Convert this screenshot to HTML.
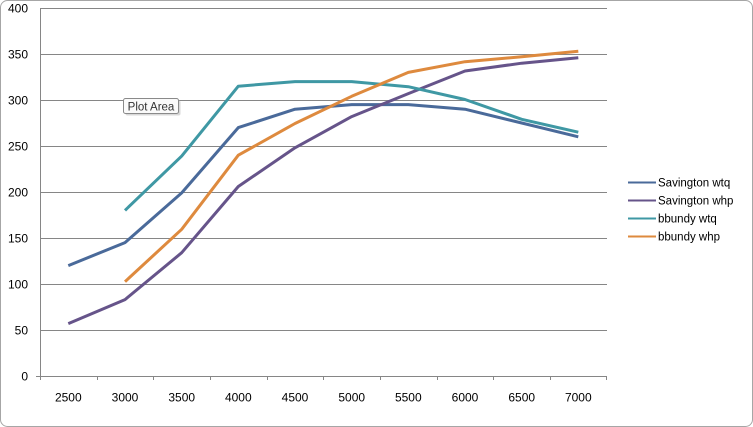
<!DOCTYPE html>
<html><head><meta charset="utf-8"><style>
html,body{margin:0;padding:0;background:#fff;}
svg{display:block;}
text{font-family:"Liberation Sans",Arial,sans-serif;}
</style></head><body>
<svg width="753" height="427" viewBox="0 0 753 427" xmlns="http://www.w3.org/2000/svg">
<rect x="0.5" y="0.5" width="752" height="426" rx="7" ry="7" fill="#fff" stroke="#a6a6a6" stroke-width="1"/>
<g stroke="#868686" stroke-width="1" shape-rendering="crispEdges">
<line x1="40" y1="8.5" x2="607" y2="8.5"/>
<line x1="40" y1="54.5" x2="607" y2="54.5"/>
<line x1="40" y1="100.5" x2="607" y2="100.5"/>
<line x1="40" y1="146.5" x2="607" y2="146.5"/>
<line x1="40" y1="192.5" x2="607" y2="192.5"/>
<line x1="40" y1="238.5" x2="607" y2="238.5"/>
<line x1="40" y1="284.5" x2="607" y2="284.5"/>
<line x1="40" y1="330.5" x2="607" y2="330.5"/>
<line x1="36" y1="376.5" x2="607" y2="376.5"/>
<line x1="40.5" y1="8" x2="40.5" y2="380"/>
<line x1="97.5" y1="376" x2="97.5" y2="380"/>
<line x1="153.5" y1="376" x2="153.5" y2="380"/>
<line x1="210.5" y1="376" x2="210.5" y2="380"/>
<line x1="267.5" y1="376" x2="267.5" y2="380"/>
<line x1="323.5" y1="376" x2="323.5" y2="380"/>
<line x1="380.5" y1="376" x2="380.5" y2="380"/>
<line x1="437.5" y1="376" x2="437.5" y2="380"/>
<line x1="493.5" y1="376" x2="493.5" y2="380"/>
<line x1="550.5" y1="376" x2="550.5" y2="380"/>
<line x1="606.5" y1="376" x2="606.5" y2="380"/>
</g>
<g font-size="12" fill="#000" text-anchor="end">
<text x="28" y="12.5">400</text>
<text x="28" y="58.5">350</text>
<text x="28" y="104.5">300</text>
<text x="28" y="150.5">250</text>
<text x="28" y="196.5">200</text>
<text x="28" y="242.5">150</text>
<text x="28" y="288.5">100</text>
<text x="28" y="334.5">50</text>
<text x="28" y="380.5">0</text>
</g>
<g font-size="12" fill="#000" text-anchor="middle">
<text x="68.3" y="401.5">2500</text>
<text x="125" y="401.5">3000</text>
<text x="181.7" y="401.5">3500</text>
<text x="238.3" y="401.5">4000</text>
<text x="295" y="401.5">4500</text>
<text x="351.7" y="401.5">5000</text>
<text x="408.3" y="401.5">5500</text>
<text x="465" y="401.5">6000</text>
<text x="521.7" y="401.5">6500</text>
<text x="578.3" y="401.5">7000</text>
</g>
<g fill="none" stroke-width="3" stroke-linejoin="round" stroke-linecap="butt">
<polyline stroke="#4a6a9a" points="68.3,265.6 125,242.6 181.7,192.9 238.3,127.6 295,109.2 351.7,104.6 408.3,104.6 465,109.2 521.7,123 578.3,136.8"/>
<polyline stroke="#66548a" points="68.3,323.6 125,299.6 181.7,252.7 238.3,186.5 295,147.8 351.7,116.6 408.3,93.6 465,71 521.7,63.2 578.3,57.7"/>
<polyline stroke="#3f98a4" points="125,210.4 181.7,156.1 238.3,86.2 295,81.6 351.7,81.6 408.3,86.7 465,99.5 521.7,119.3 578.3,132.2"/>
<polyline stroke="#de8a3e" points="125,281.7 181.7,229.3 238.3,155.2 295,123.5 351.7,96.3 408.3,72.4 465,61.7 521.7,56.8 578.3,51.2"/>
</g>
<g>
<rect x="125.5" y="100.5" width="55" height="15" rx="2" fill="#c8c8c8" opacity="0.7"/>
<rect x="123.5" y="98.5" width="55" height="15" rx="2" fill="#fafafa" stroke="#8a8a8a" stroke-width="1"/>
<text x="151" y="110.5" font-size="11.5" fill="#333" text-anchor="middle">Plot Area</text>
</g>
<g stroke-width="2">
<line x1="628" y1="182.5" x2="656" y2="182.5" stroke="#4a6a9a"/>
<line x1="628" y1="200.5" x2="656" y2="200.5" stroke="#66548a"/>
<line x1="628" y1="218.5" x2="656" y2="218.5" stroke="#3f98a4"/>
<line x1="628" y1="236.5" x2="656" y2="236.5" stroke="#de8a3e"/>
</g>
<g font-size="11.5" fill="#000">
<text x="658" y="186.5">Savington wtq</text>
<text x="658" y="204.5">Savington whp</text>
<text x="658" y="222.5">bbundy wtq</text>
<text x="658" y="240.5">bbundy whp</text>
</g>
</svg>
</body></html>
